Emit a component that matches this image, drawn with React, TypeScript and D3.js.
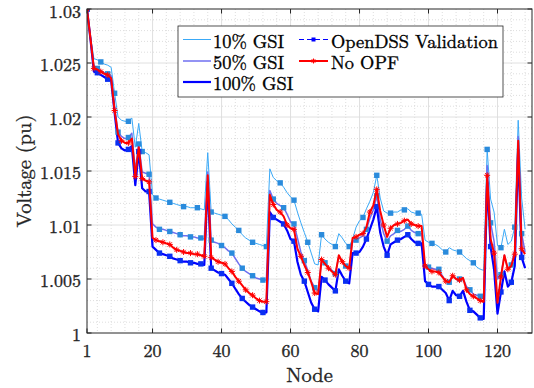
import React from 'react';
import * as d3 from 'd3';

const W = 534;
const H = 388;
const PLOT = { left: 87, right: 532, top: 9, bottom: 333 };

const nodeTicks = [1, 20, 40, 60, 80, 100, 120];
const voltTicks = [1, 1.005, 1.01, 1.015, 1.02, 1.025, 1.03];
const voltTickLabels = ['1', '1.005', '1.01', '1.015', '1.02', '1.025', '1.03'];

const seriesNames = ['10% GSI', '50% GSI', '100% GSI', 'OpenDSS Validation', 'No OPF'];

// Node voltages (pu), nodes 1..128
const gsi10 = [
  1.0300, 1.0275, 1.0254, 1.0253, 1.0251, 1.0249, 1.0248, 1.0246, 1.0222, 1.0200,
  1.0197, 1.0196, 1.0196, 1.0199, 1.0172, 1.0194, 1.0168, 1.0167, 1.0165, 1.0128,
  1.0125, 1.0124, 1.0123, 1.0122, 1.0121, 1.0120, 1.0119, 1.0118, 1.0117, 1.0117,
  1.0116, 1.0116, 1.0116, 1.0115, 1.0114, 1.0167, 1.0112, 1.0111, 1.0110, 1.0109,
  1.0108, 1.0105, 1.0101, 1.0098, 1.0095, 1.0091, 1.0088, 1.0086, 1.0084, 1.0083,
  1.0082, 1.0081, 1.0080, 1.0152, 1.0144, 1.0141, 1.0139, 1.0135, 1.0130, 1.0126,
  1.0123, 1.0112, 1.0102, 1.0093, 1.0084, 1.0074, 1.0064, 1.0063, 1.0091, 1.0087,
  1.0084, 1.0082, 1.0080, 1.0092, 1.0088, 1.0083, 1.0080, 1.0087, 1.0098, 1.0104,
  1.0107, 1.0115, 1.0122, 1.0130, 1.0146, 1.0125, 1.0113, 1.0111, 1.0111, 1.0112,
  1.0112, 1.0114, 1.0114, 1.0115, 1.0112, 1.0111, 1.0111, 1.0110, 1.0086, 1.0084,
  1.0083, 1.0082, 1.0080, 1.0077, 1.0075, 1.0079, 1.0077, 1.0076, 1.0075, 1.0072,
  1.0069, 1.0067, 1.0065, 1.0061, 1.0059, 1.0058, 1.0170, 1.0124, 1.0112, 1.0081,
  1.0079, 1.0096, 1.0082, 1.0085, 1.0098, 1.0197, 1.0125, 1.0096,
];

const gsi50 = [
  1.0300, 1.0273, 1.0247, 1.0245, 1.0243, 1.0241, 1.0240, 1.0238, 1.0210, 1.0186,
  1.0182, 1.0180, 1.0181, 1.0185, 1.0151, 1.0175, 1.0149, 1.0148, 1.0147, 1.0101,
  1.0098, 1.0096, 1.0096, 1.0095, 1.0094, 1.0093, 1.0092, 1.0091, 1.0090, 1.0090,
  1.0089, 1.0089, 1.0088, 1.0088, 1.0087, 1.0149, 1.0086, 1.0084, 1.0083, 1.0081,
  1.0079, 1.0076, 1.0074, 1.0069, 1.0064, 1.0060, 1.0057, 1.0055, 1.0053, 1.0051,
  1.0050, 1.0049, 1.0049, 1.0132, 1.0124, 1.0120, 1.0118, 1.0116, 1.0110, 1.0103,
  1.0101, 1.0088, 1.0075, 1.0067, 1.0058, 1.0048, 1.0042, 1.0039, 1.0067, 1.0065,
  1.0061, 1.0058, 1.0055, 1.0071, 1.0066, 1.0062, 1.0060, 1.0085, 1.0086, 1.0088,
  1.0090, 1.0096, 1.0106, 1.0114, 1.0127, 1.0105, 1.0092, 1.0085, 1.0090, 1.0092,
  1.0095, 1.0094, 1.0096, 1.0099, 1.0095, 1.0093, 1.0092, 1.0092, 1.0062, 1.0061,
  1.0060, 1.0059, 1.0059, 1.0053, 1.0048, 1.0047, 1.0053, 1.0050, 1.0050, 1.0051,
  1.0043, 1.0040, 1.0036, 1.0035, 1.0034, 1.0033, 1.0155, 1.0102, 1.0085, 1.0050,
  1.0054, 1.0072, 1.0059, 1.0063, 1.0077, 1.0182, 1.0092, 1.0075,
];

const gsi100 = [
  1.0300, 1.0272, 1.0242, 1.0241, 1.0239, 1.0237, 1.0235, 1.0234, 1.0204, 1.0176,
  1.0171, 1.0169, 1.0170, 1.0173, 1.0137, 1.0168, 1.0134, 1.0131, 1.0131, 1.0080,
  1.0077, 1.0074, 1.0073, 1.0072, 1.0071, 1.0069, 1.0068, 1.0067, 1.0066, 1.0066,
  1.0065, 1.0065, 1.0064, 1.0064, 1.0063, 1.0140, 1.0060, 1.0058, 1.0056, 1.0055,
  1.0054, 1.0050, 1.0046, 1.0041, 1.0036, 1.0032, 1.0029, 1.0026, 1.0024, 1.0022,
  1.0020, 1.0019, 1.0019, 1.0112, 1.0107, 1.0105, 1.0103, 1.0101, 1.0095, 1.0087,
  1.0085, 1.0066, 1.0054, 1.0048, 1.0038, 1.0028, 1.0022, 1.0020, 1.0052, 1.0049,
  1.0045, 1.0042, 1.0039, 1.0059, 1.0053, 1.0048, 1.0046, 1.0074, 1.0074, 1.0075,
  1.0080, 1.0087, 1.0096, 1.0105, 1.0117, 1.0093, 1.0080, 1.0072, 1.0082, 1.0084,
  1.0086, 1.0087, 1.0089, 1.0091, 1.0087, 1.0084, 1.0083, 1.0083, 1.0048, 1.0045,
  1.0043, 1.0043, 1.0043, 1.0040, 1.0037, 1.0030, 1.0039, 1.0035, 1.0034, 1.0039,
  1.0029, 1.0021, 1.0020, 1.0017, 1.0014, 1.0013, 1.0140, 1.0080, 1.0059, 1.0018,
  1.0038, 1.0057, 1.0043, 1.0047, 1.0062, 1.0170, 1.0070, 1.0060,
];

const noOpf = [
  1.0300, 1.0273, 1.0245, 1.0244, 1.0242, 1.0240, 1.0239, 1.0236, 1.0206, 1.0184,
  1.0178, 1.0176, 1.0176, 1.0180, 1.0145, 1.0172, 1.0143, 1.0141, 1.0140, 1.0088,
  1.0086, 1.0085, 1.0084, 1.0083, 1.0082, 1.0079, 1.0077, 1.0076, 1.0075, 1.0074,
  1.0074, 1.0073, 1.0073, 1.0072, 1.0071, 1.0146, 1.0070, 1.0068, 1.0066, 1.0065,
  1.0064, 1.0060, 1.0057, 1.0052, 1.0048, 1.0044, 1.0040, 1.0037, 1.0035, 1.0032,
  1.0030, 1.0029, 1.0029, 1.0128, 1.0119, 1.0114, 1.0112, 1.0108, 1.0100, 1.0097,
  1.0096, 1.0078, 1.0071, 1.0063, 1.0056, 1.0047, 1.0037, 1.0036, 1.0068, 1.0064,
  1.0060, 1.0057, 1.0054, 1.0072, 1.0066, 1.0062, 1.0060, 1.0088, 1.0089, 1.0091,
  1.0092, 1.0098, 1.0112, 1.0118, 1.0133, 1.0113, 1.0100, 1.0089, 1.0097, 1.0100,
  1.0101, 1.0102, 1.0104, 1.0105, 1.0101, 1.0100, 1.0099, 1.0099, 1.0062, 1.0059,
  1.0057, 1.0057, 1.0056, 1.0052, 1.0048, 1.0047, 1.0053, 1.0050, 1.0049, 1.0051,
  1.0040, 1.0036, 1.0034, 1.0032, 1.0030, 1.0029, 1.0146, 1.0087, 1.0074, 1.0028,
  1.0052, 1.0072, 1.0059, 1.0062, 1.0073, 1.0178, 1.0078, 1.0073,
];

// OpenDSS validation sample nodes
const dssNodes10 = d3.range(1, 129, 4);
const dssNodes50 = d3.range(1, 129, 3);
const dssNodes100 = d3.range(1, 129, 3);
const noOpfMarkerNodes = d3.range(1, 129, 2);

const nodes = gsi10.map((_, i) => i + 1);

const FONT = "'Latin Modern Roman', 'Liberation Serif', serif";
const TXT = '#262626';

function Asterisk({ x, y, r, color }: { x: number; y: number; r: number; color: string }) {
  const d = r * 0.72;
  return (
    <g stroke={color} strokeWidth={1}>
      <line x1={x - r} y1={y} x2={x + r} y2={y} />
      <line x1={x} y1={y - r} x2={x} y2={y + r} />
      <line x1={x - d} y1={y - d} x2={x + d} y2={y + d} />
      <line x1={x - d} y1={y + d} x2={x + d} y2={y - d} />
    </g>
  );
}

function T(props: any) {
  const { size, color, children, ...rest } = props;
  const c = color || TXT;
  return (
    <text {...rest} fill={c} stroke={c} strokeWidth={0.35} style={{ fontFamily: FONT, fontSize: size }}>
      {children}
    </text>
  );
}

export default function App() {
  const x = d3.scaleLinear().domain([1, 130]).range([PLOT.left, PLOT.right]);
  const y = d3.scaleLinear().domain([1, 1.03]).range([PLOT.bottom, PLOT.top]);

  const line = d3
    .line<number>()
    .x((_, i) => x(nodes[i]))
    .y((v) => y(v));

  const xMinor = d3.range(4, 130, 4).filter((v) => !nodeTicks.includes(v));
  const yMinor = d3.range(1, 31).filter((k) => k % 5 !== 0).map((k) => 1 + k * 0.001);

  const tick = 4.5;

  const c10 = '#3aa9f7';
  const c50 = '#6f6ff0';
  const c100 = '#0000ff';
  const cRed = '#ff0000';
  const cDss = '#2a8bdc';

  const lx = 178, ly = 26, lw = 325, lh = 71;
  const rows = [39.5, 61, 82];

  return (
    <svg width={W} height={H} style={{ position: 'absolute', left: 0, top: 0, background: '#fff' }}>
      <rect x={0} y={0} width={W} height={H} fill="#fff" />
      <defs>
        <clipPath id="plotclip">
          <rect x={PLOT.left} y={PLOT.top} width={PLOT.right - PLOT.left} height={PLOT.bottom - PLOT.top} />
        </clipPath>
      </defs>
      {/* minor grid */}
      <g stroke="#d0d0d0" strokeWidth={0.7} strokeDasharray="1,2">
        {xMinor.map((v) => (
          <line key={'xm' + v} x1={x(v)} x2={x(v)} y1={PLOT.top} y2={PLOT.bottom} />
        ))}
        {yMinor.map((v, i) => (
          <line key={'ym' + i} x1={PLOT.left} x2={PLOT.right} y1={y(v)} y2={y(v)} />
        ))}
      </g>
      {/* major grid */}
      <g stroke="#dcdcdc" strokeWidth={0.9}>
        {nodeTicks.slice(1).map((v) => (
          <line key={'xg' + v} x1={x(v)} x2={x(v)} y1={PLOT.top} y2={PLOT.bottom} />
        ))}
        {voltTicks.slice(1, -1).map((v) => (
          <line key={'yg' + v} x1={PLOT.left} x2={PLOT.right} y1={y(v)} y2={y(v)} />
        ))}
      </g>

      <g clipPath="url(#plotclip)" fill="none" strokeLinejoin="round">
        <path d={line(gsi10) || ''} stroke={c10} strokeWidth={1} />
        <path d={line(gsi50) || ''} stroke={c50} strokeWidth={1.5} />
        <path d={line(gsi100) || ''} stroke={c100} strokeWidth={2.2} />
        <g>
          {dssNodes10.map((n) => (
            <rect key={'d10' + n} x={x(n) - 2.7} y={y(gsi10[n - 1]) - 2.7} width={5.4} height={5.4} fill={cDss} />
          ))}
          {dssNodes50.map((n) => (
            <rect key={'d50' + n} x={x(n) - 2.7} y={y(gsi50[n - 1]) - 2.7} width={5.4} height={5.4} fill={cDss} />
          ))}
          {dssNodes100.map((n) => (
            <rect key={'d100' + n} x={x(n) - 2.7} y={y(gsi100[n - 1]) - 2.7} width={5.4} height={5.4} fill="#0a2ff2" />
          ))}
        </g>
        <path d={line(noOpf) || ''} stroke={cRed} strokeWidth={2} />
        {noOpfMarkerNodes.map((n) => (
          <Asterisk key={'r' + n} x={x(n)} y={y(noOpf[n - 1])} r={3} color={cRed} />
        ))}
      </g>

      {/* axes box */}
      <rect x={PLOT.left} y={PLOT.top} width={PLOT.right - PLOT.left} height={PLOT.bottom - PLOT.top} fill="none" stroke={TXT} strokeWidth={1} />
      <g stroke={TXT} strokeWidth={1}>
        {nodeTicks.map((v) => (
          <g key={'xt' + v}>
            <line x1={x(v)} x2={x(v)} y1={PLOT.bottom} y2={PLOT.bottom - tick} />
            <line x1={x(v)} x2={x(v)} y1={PLOT.top} y2={PLOT.top + tick} />
          </g>
        ))}
        {voltTicks.map((v) => (
          <g key={'yt' + v}>
            <line x1={PLOT.left} x2={PLOT.left + tick} y1={y(v)} y2={y(v)} />
            <line x1={PLOT.right} x2={PLOT.right - tick} y1={y(v)} y2={y(v)} />
          </g>
        ))}
      </g>
      <g>
        {nodeTicks.map((v) => (
          <T key={'xl' + v} size={18} x={x(v)} y={349} textAnchor="middle" dominantBaseline="central">
            {v}
          </T>
        ))}
        {voltTicks.map((v, i) => (
          <T key={'yl' + v} size={18} x={81} y={y(v) + (i === voltTicks.length - 1 ? 1 : 0)} textAnchor="end" dominantBaseline="central">
            {voltTickLabels[i]}
          </T>
        ))}
        <T size={20.5} x={(PLOT.left + PLOT.right) / 2} y={373} textAnchor="middle" dominantBaseline="central">
          Node
        </T>
        <T size={20.5} transform={`translate(22,${(PLOT.top + PLOT.bottom) / 2}) rotate(-90)`} textAnchor="middle" dominantBaseline="central">
          Voltage (pu)
        </T>
      </g>

      {/* legend */}
      <g>
        <rect x={lx} y={ly} width={lw} height={lh} fill="#fff" stroke={TXT} strokeWidth={0.8} />
        <line x1={183} x2={211} y1={rows[0]} y2={rows[0]} stroke={c10} strokeWidth={1} />
        <line x1={183} x2={211} y1={rows[1]} y2={rows[1]} stroke={c50} strokeWidth={1.5} />
        <line x1={183} x2={211} y1={rows[2]} y2={rows[2]} stroke={c100} strokeWidth={2.2} />
        <line x1={299} x2={328} y1={rows[0]} y2={rows[0]} stroke="#0000ff" strokeWidth={1} strokeDasharray="5,3" />
        <rect x={313.5 - 2} y={rows[0] - 2} width={4} height={4} fill="#0000ff" />
        <line x1={299} x2={328} y1={rows[1]} y2={rows[1]} stroke={cRed} strokeWidth={2} />
        <Asterisk x={313.5} y={rows[1]} r={2.5} color={cRed} />
        <T size={18.4} color="#000" x={213} y={rows[0]} dominantBaseline="central">{seriesNames[0]}</T>
        <T size={18.4} color="#000" x={213} y={rows[1]} dominantBaseline="central">{seriesNames[1]}</T>
        <T size={18.4} color="#000" x={213} y={rows[2]} dominantBaseline="central">{seriesNames[2]}</T>
        <T size={18.4} color="#000" x={331} y={rows[0]} dominantBaseline="central">{seriesNames[3]}</T>
        <T size={18.4} color="#000" x={331} y={rows[1]} dominantBaseline="central">{seriesNames[4]}</T>
      </g>
    </svg>
  );
}
